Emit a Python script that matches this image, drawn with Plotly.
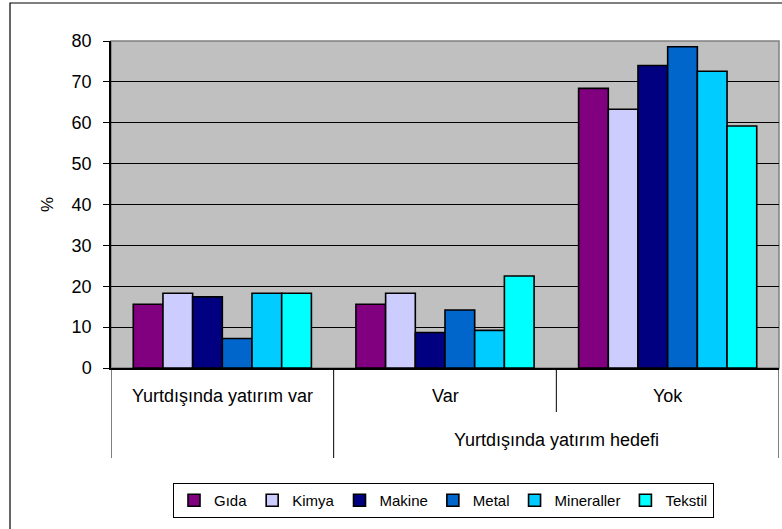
import plotly.graph_objects as go

groups = ["Yurtdışında yatırım var", "Var", "Yok"]
outer_label = "Yurtdışında yatırım hedefi"
series_names = ["Gıda", "Kimya", "Makine", "Metal", "Mineraller", "Tekstil"]
gida = [15.6, 15.6, 68.4]
kimya = [18.3, 18.3, 63.3]
makine = [17.4, 8.7, 74.0]
metal = [7.2, 14.2, 78.6]
mineraller = [18.3, 9.2, 72.6]
tekstil = [18.3, 22.5, 59.2]
y_ticks = [0, 10, 20, 30, 40, 50, 60, 70, 80]

values = [gida, kimya, makine, metal, mineraller, tekstil]
colors = ["#800080", "#CCCCFF", "#000080", "#0066CC", "#00CCFF", "#00FFFF"]

FONT = "Liberation Sans, Arial, sans-serif"

W, H = 782, 529
L, R, T, B = 111, 3, 41, 161
pw, ph = W - L - R, H - T - B

def px_x(p):
    return (p - L) / pw

def px_y(p):
    return (H - B - p) / ph

fig = go.Figure()
for name, vals, col in zip(series_names, values, colors):
    fig.add_trace(go.Bar(
        x=groups, y=vals, name=name,
        marker=dict(color=col, line=dict(color="black", width=1.6)),
    ))

shapes = []
shapes.append(dict(type="rect", xref="paper", yref="paper", x0=0, x1=1, y0=0, y1=1,
                   line=dict(color="#808080", width=1.5), layer="below"))
shapes.append(dict(type="rect", xref="paper", yref="paper",
                   x0=px_x(10), x1=px_x(795), y0=px_y(540), y1=px_y(3),
                   line=dict(color="black", width=1.2)))
for xb, yend in [(-0.5, 458), (0.5, 458), (1.5, 412), (2.5, 458)]:
    shapes.append(dict(type="line", xref="x", yref="paper", x0=xb, x1=xb,
                       y0=0, y1=px_y(yend), line=dict(color="black", width=1)))

annotations = []
for g in groups:
    annotations.append(dict(x=g, y=px_y(396), xref="x", yref="paper", text=g,
                            showarrow=False, font=dict(family=FONT, size=18, color="black"),
                            xanchor="center", yanchor="middle"))
annotations.append(dict(x=px_x(556), y=px_y(440), xref="paper", yref="paper", text=outer_label,
                        showarrow=False, font=dict(family=FONT, size=18, color="black"),
                        xanchor="center", yanchor="middle"))
annotations.append(dict(x=px_x(48), y=px_y(205), xref="paper", yref="paper", text="%",
                        showarrow=False, textangle=-90,
                        font=dict(family=FONT, size=17, color="black"),
                        xanchor="center", yanchor="middle"))

fig.update_layout(
    width=W, height=H,
    margin=dict(l=L, r=R, t=T, b=B, pad=0),
    paper_bgcolor="white",
    plot_bgcolor="#C0C0C0",
    barmode="group",
    bargap=0.2,
    bargroupgap=0,
    font=dict(family=FONT, size=16, color="black"),
    showlegend=True,
    legend=dict(orientation="h", x=px_x(443.5), xanchor="center",
                y=px_y(483), yanchor="top",
                bordercolor="black", borderwidth=1, bgcolor="white",
                font=dict(family=FONT, size=15, color="black"),
                itemwidth=30, tracegroupgap=0),
    shapes=shapes,
    annotations=annotations,
)
fig.update_xaxes(type="category", range=[-0.5, 2.5], showticklabels=False, ticks="",
                 showline=True, linecolor="black", linewidth=1.5, showgrid=False,
                 zeroline=False)
fig.update_yaxes(range=[0, 80], tickvals=y_ticks, ticks="outside", ticklen=6,
                 tickcolor="black", tickwidth=1, showline=True, linecolor="black",
                 linewidth=1.5, showgrid=True, gridcolor="black", gridwidth=1,
                 zeroline=False, ticklabelstandoff=8,
                 tickfont=dict(family=FONT, size=18, color="black"))

fig.write_html("out.html", config={"displayModeBar": False},
               post_script="document.body.style.margin='0';document.body.style.padding='0';")
